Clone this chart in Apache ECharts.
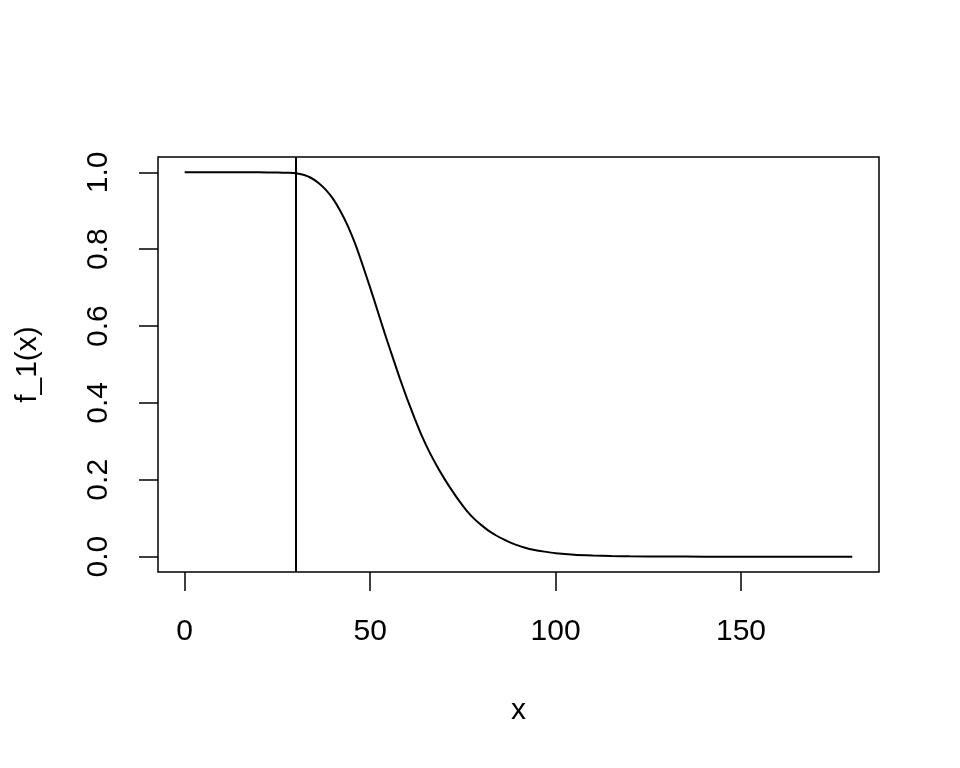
<!DOCTYPE html>
<html>
<head>
<meta charset="utf-8">
<script src="https://cdn.jsdelivr.net/npm/echarts@6/dist/echarts.min.js"></script>
<style>
html,body{margin:0;padding:0;background:#fff;}
#chart{width:960px;height:768px;}
</style>
</head>
<body>
<div id="chart"></div>
<script>
// x values and f_1(x) values
var xValues = [0, 10, 20, 25, 28, 30, 32, 34, 36, 38, 40, 42, 44, 46, 48, 50, 52, 54, 56, 58, 60, 62, 64, 66, 68, 70, 72, 74, 76, 78, 80, 82, 84, 86, 88, 90, 92, 94, 97, 100, 105, 110, 115, 120, 130, 140, 150, 160, 170, 180];
var fValues = [1.0, 1.0, 1.0, 0.9995, 0.999, 0.998, 0.994, 0.986, 0.973, 0.955, 0.931, 0.899, 0.860, 0.813, 0.758, 0.700, 0.640, 0.579, 0.521, 0.464, 0.410, 0.360, 0.313, 0.272, 0.236, 0.203, 0.173, 0.145, 0.120, 0.099, 0.082, 0.067, 0.055, 0.045, 0.036, 0.0285, 0.0225, 0.018, 0.013, 0.009, 0.005, 0.003, 0.0015, 0.0008, 0.0002, 0, 0, 0, 0, 0];
var xTicks = [0, 50, 100, 150];
var yTicks = [0, 0.2, 0.4, 0.6, 0.8, 1.0];
var vLineX = 30;

var seriesData = xValues.map(function (x, i) { return [x, fValues[i]]; });

var chart = echarts.init(document.getElementById('chart'), null, {renderer: 'canvas'});
var font = 'Liberation Sans, Arial, Helvetica, sans-serif';
chart.setOption({
  animation: false,
  backgroundColor: '#ffffff',
  grid: {
    left: 158, right: 81, top: 157, bottom: 196,
    show: true, borderColor: '#000', borderWidth: 1.5, backgroundColor: 'transparent'
  },
  xAxis: {
    type: 'value',
    min: -7.2, max: 187.2,
    axisLine: {show: false, onZero: false},
    splitLine: {show: false},
    axisTick: {show: true, length: 19, lineStyle: {color: '#000', width: 1.5}, customValues: xTicks},
    axisLabel: {show: true, customValues: xTicks, color: '#000', fontSize: 30, fontFamily: font, margin: 45},
    name: 'x', nameLocation: 'middle', nameGap: 124,
    nameTextStyle: {color: '#000', fontSize: 30, fontFamily: font}
  },
  yAxis: {
    type: 'value',
    min: -0.04, max: 1.04,
    axisLine: {show: false, onZero: false},
    splitLine: {show: false},
    axisTick: {show: true, length: 19, lineStyle: {color: '#000', width: 1.5}, customValues: yTicks},
    axisLabel: {show: true, customValues: yTicks, rotate: 90, color: '#000', fontSize: 30, fontFamily: font, margin: 44,
      formatter: function (v) { return v.toFixed(1); }},
    name: 'f_1(x)', nameLocation: 'middle', nameGap: 115, nameRotate: 90,
    nameTextStyle: {color: '#000', fontSize: 30, fontFamily: font}
  },
  series: [{
    type: 'line',
    data: seriesData,
    showSymbol: false,
    smooth: 0.2,
    lineStyle: {color: '#000', width: 2},
    markLine: {
      silent: true,
      symbol: ['none', 'none'],
      label: {show: false},
      lineStyle: {color: '#000', width: 2, type: 'solid'},
      data: [{xAxis: vLineX}]
    }
  }]
});
</script>
</body>
</html>
